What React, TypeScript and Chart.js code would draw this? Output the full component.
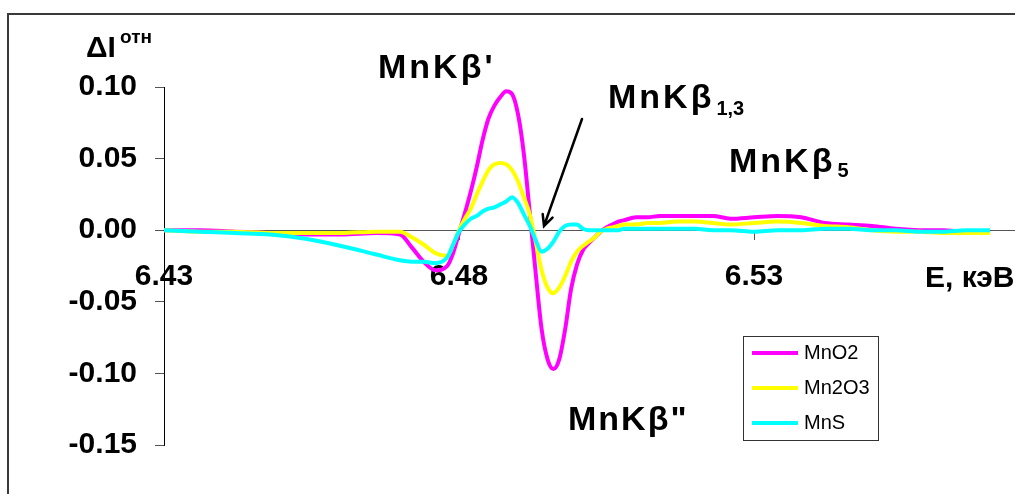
import React, { useEffect, useRef } from 'react';
import { Chart, registerables } from 'chart.js';

Chart.register(...registerables);

// Energy, keV
const energies = [
  6.430, 6.436, 6.442, 6.448, 6.454, 6.460, 6.466, 6.470, 6.472, 6.474,
  6.476, 6.478, 6.479, 6.480, 6.481, 6.482, 6.483, 6.484, 6.485, 6.486,
  6.487, 6.488, 6.489, 6.490, 6.491, 6.492, 6.493, 6.494, 6.495, 6.496,
  6.497, 6.498, 6.499, 6.500, 6.501, 6.502, 6.503, 6.504, 6.505, 6.506,
  6.507, 6.508, 6.510, 6.512, 6.514, 6.517, 6.520, 6.523, 6.526, 6.530,
  6.534, 6.538, 6.542, 6.546, 6.550, 6.554, 6.558, 6.562, 6.566, 6.570,
];

const mnO2 = [
  0.000, 0.000, -0.001, -0.002, -0.003, -0.003, -0.002, -0.003, -0.012, -0.022,
  -0.028, -0.025, -0.016, -0.002, 0.012, 0.027, 0.044, 0.063, 0.078, 0.087,
  0.093, 0.097, 0.095, 0.081, 0.053, 0.012, -0.030, -0.069, -0.090, -0.097,
  -0.090, -0.069, -0.041, -0.024, -0.014, -0.009, -0.005, -0.001, 0.002, 0.004,
  0.006, 0.007, 0.009, 0.009, 0.010, 0.010, 0.010, 0.010, 0.008, 0.009,
  0.010, 0.009, 0.005, 0.004, 0.003, 0.001, 0.000, 0.000, -0.001, -0.001,
];

const mn2O3 = [
  0.000, -0.001, -0.001, -0.002, -0.002, -0.002, -0.001, -0.001, -0.005, -0.010,
  -0.016, -0.018, -0.010, 0.000, 0.008, 0.015, 0.025, 0.034, 0.042, 0.046,
  0.047, 0.046, 0.042, 0.034, 0.023, 0.011, -0.008, -0.028, -0.040, -0.044,
  -0.040, -0.032, -0.022, -0.015, -0.011, -0.008, -0.005, -0.001, 0.001, 0.002,
  0.003, 0.004, 0.004, 0.005, 0.005, 0.006, 0.006, 0.005, 0.004, 0.005,
  0.006, 0.005, 0.003, 0.002, 0.000, -0.001, -0.001, -0.002, -0.002, -0.002,
];

const mnS = [
  0.000, -0.001, -0.002, -0.003, -0.006, -0.011, -0.017, -0.021, -0.022, -0.022,
  -0.023, -0.019, -0.010, -0.001, 0.004, 0.008, 0.010, 0.013, 0.015, 0.016,
  0.018, 0.020, 0.023, 0.019, 0.011, 0.003, -0.007, -0.015, -0.013, -0.008,
  -0.001, 0.003, 0.004, 0.004, 0.001, 0.000, 0.000, 0.000, 0.000, 0.000,
  0.000, 0.001, 0.001, 0.001, 0.001, 0.001, 0.001, 0.000, 0.000, -0.001,
  0.000, 0.000, 0.001, 0.001, 0.000, 0.000, -0.001, -0.001, 0.000, 0.000,
];

const seriesLabels = ['MnO2', 'Mn2O3', 'MnS'];
const seriesColors = ['#FF00FF', '#FFFF00', '#00FFFF'];
const seriesValues = [mnO2, mn2O3, mnS];

const xTicks = [6.43, 6.48, 6.53];
const yTicks = [0.1, 0.05, 0.0, -0.05, -0.1, -0.15];

const FONT = '"Liberation Sans", Arial, Helvetica, sans-serif';

const overlayPlugin = {
  id: 'overlay',
  afterDraw(chart: any) {
    const ctx: any = chart.ctx;
    ctx.save();
    ctx.fillStyle = '#000';
    ctx.textAlign = 'left';
    ctx.textBaseline = 'alphabetic';

    // y-axis title
    ctx.font = `bold 30px ${FONT}`;
    ctx.fillText('ΔI', 86, 57);
    ctx.font = `bold 19px ${FONT}`;
    ctx.fillText('отн', 120, 43);

    const big = (text: string, x: number, y: number, sub?: string, subDy?: number, spacing = 3) => {
      ctx.font = `bold 34px ${FONT}`;
      ctx.letterSpacing = `${spacing}px`;
      ctx.fillText(text, x, y);
      const w = ctx.measureText(text).width;
      if (sub) {
        ctx.font = `bold 20px ${FONT}`;
        ctx.letterSpacing = '0px';
        ctx.fillText(sub, x + w + 2, y + (subDy || 0));
      }
      ctx.letterSpacing = '0px';
    };
    big("MnKβ'", 378, 78);
    big('MnKβ', 608, 108, '1,3', 7);
    big('MnKβ', 729, 172, '5', 5);
    big('MnKβ"', 568, 430, undefined, 0, 2);

    // x-axis title
    ctx.font = `bold 30px ${FONT}`;
    ctx.fillText('E, кэВ', 925, 287);

    // arrow
    const sx = 582, sy = 119, tx = 544, ty = 226;
    ctx.strokeStyle = '#000';
    ctx.lineWidth = 2.5;
    ctx.lineCap = 'round';
    ctx.beginPath();
    ctx.moveTo(sx, sy);
    ctx.lineTo(tx, ty);
    const ang = Math.atan2(ty - sy, tx - sx);
    const L = 12, a = 0.45;
    ctx.moveTo(tx - L * Math.cos(ang - a), ty - L * Math.sin(ang - a));
    ctx.lineTo(tx, ty);
    ctx.lineTo(tx - L * Math.cos(ang + a), ty - L * Math.sin(ang + a));
    ctx.stroke();

    // legend
    ctx.lineCap = 'butt';
    ctx.strokeStyle = '#333';
    ctx.lineWidth = 1;
    ctx.strokeRect(743.5, 336.5, 135, 104);
    ctx.font = `20px ${FONT}`;
    ctx.textBaseline = 'middle';
    const rows = [353, 388, 423];
    chart.data.datasets.forEach((ds: any, i: number) => {
      ctx.strokeStyle = ds.borderColor;
      ctx.lineWidth = 4;
      ctx.beginPath();
      ctx.moveTo(752, rows[i]);
      ctx.lineTo(798, rows[i]);
      ctx.stroke();
      ctx.fillStyle = '#000';
      ctx.fillText(ds.label, 804, rows[i] + 0.5);
    });
    ctx.restore();
  },
};

export default function App() {
  const ref = useRef<HTMLCanvasElement | null>(null);

  useEffect(() => {
    if (!ref.current) return;
    const tickFont = { family: FONT, size: 30, weight: 'bold' as const };
    const chart = new Chart(ref.current, {
      type: 'line',
      data: {
        datasets: seriesLabels.map((label, i) => ({
          label,
          data: energies.map((e, j) => ({ x: e, y: seriesValues[i][j] })),
          borderColor: seriesColors[i],
          backgroundColor: seriesColors[i],
          borderWidth: 4,
          pointRadius: 0,
          fill: false,
          cubicInterpolationMode: 'monotone' as const,
          borderJoinStyle: 'round' as const,
          order: 3 - i,
        })),
      },
      options: {
        animation: false,
        responsive: false,
        devicePixelRatio: 1,
        layout: { padding: { top: 87, bottom: 49, left: 0, right: 51 } },
        plugins: {
          legend: { display: false },
          tooltip: { enabled: false },
        },
        scales: {
          x: {
            type: 'linear',
            position: { y: 0 } as any,
            min: 6.43,
            max: 6.58,
            afterBuildTicks: (s: any) => {
              s.ticks = xTicks.map((v) => ({ value: v }));
            },
            afterFit: (s: any) => {
              s.paddingLeft = 0;
              s.paddingRight = 0;
            },
            grid: { drawOnChartArea: false, drawTicks: true, tickLength: 9, color: '#555' },
            border: { display: true, color: '#555', width: 1 },
            ticks: {
              padding: 20,
              color: '#000',
              font: tickFont,
              maxRotation: 0,
              autoSkip: false,
              callback: (v: any) => Number(v).toFixed(2),
            },
          },
          y: {
            type: 'linear',
            position: 'left',
            min: -0.15,
            max: 0.1,
            afterBuildTicks: (s: any) => {
              s.ticks = yTicks.map((v) => ({ value: v }));
            },
            afterFit: (s: any) => {
              s.width = 164;
              s.paddingTop = 0;
              s.paddingBottom = 0;
            },
            grid: { drawOnChartArea: false, drawTicks: true, tickLength: 9, color: '#555' },
            border: { display: true, color: '#000', width: 1 },
            ticks: {
              padding: 18,
              color: '#000',
              font: tickFont,
              autoSkip: false,
              callback: (v: any) => Number(v).toFixed(2),
            },
          },
        },
      },
      plugins: [overlayPlugin],
    });
    return () => chart.destroy();
  }, []);

  return (
    <div
      style={{
        position: 'absolute',
        left: 0,
        top: 0,
        width: 1015,
        height: 494,
        overflow: 'hidden',
        background: '#fff',
      }}
    >
      <div
        style={{
          position: 'absolute',
          left: 7,
          top: 13,
          width: 1200,
          height: 700,
          border: '2px solid #3a3a3a',
        }}
      />
      <canvas ref={ref} width={1100} height={494} style={{ position: 'absolute', left: 0, top: 0 }} />
    </div>
  );
}
